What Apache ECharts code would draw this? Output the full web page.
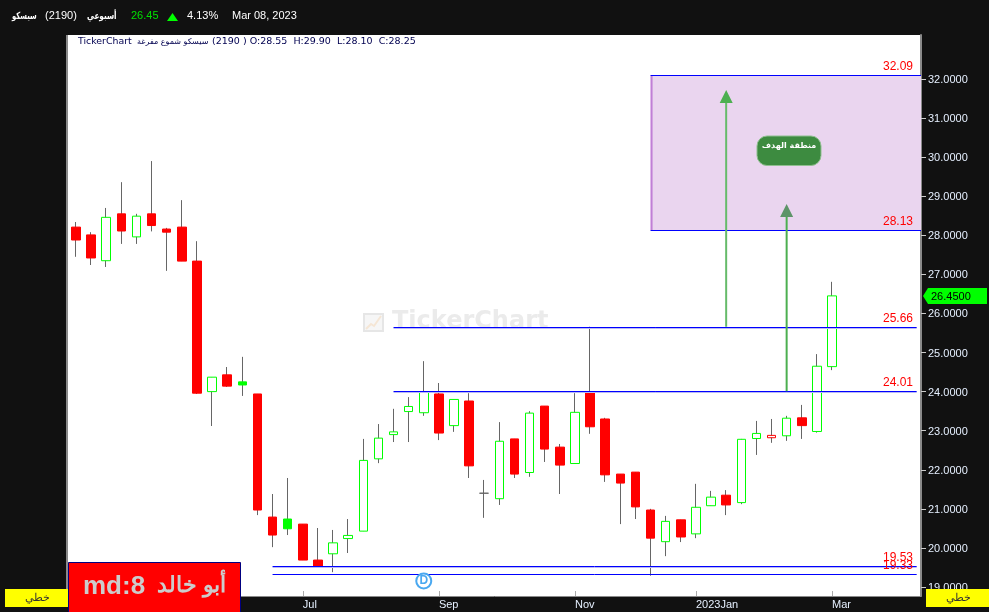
<!DOCTYPE html>
<html><head><meta charset="utf-8">
<style>html,body{margin:0;padding:0;background:#111;overflow:hidden}#c{width:989px;height:612px}</style>
<script src="https://cdn.jsdelivr.net/npm/echarts@6/dist/echarts.min.js"></script>
</head><body><div id="c"></div>
<script>
const opens  = [28.21,28.01,27.35,28.55,27.96,28.55,28.16,28.21,27.34,24.00,24.43,24.25,23.94,20.79,20.74,20.61,19.69,19.85,20.24,20.43,22.28,22.90,23.49,23.46,23.94,23.13,23.76,21.40,21.26,22.79,21.93,23.63,22.58,22.16,24.00,23.30,21.89,21.94,20.97,20.16,20.72,20.36,21.08,21.35,21.16,22.80,22.82,22.87,23.33,22.98,24.64];
const closes = [27.88,27.42,28.46,28.11,28.49,28.25,28.08,27.34,23.96,24.37,24.14,24.17,20.97,20.33,20.49,19.69,19.52,20.13,20.32,22.24,22.81,22.97,23.62,24.00,22.94,23.80,22.10,21.40,22.73,21.89,23.45,22.53,22.12,23.47,23.10,21.87,21.66,21.05,20.25,20.68,20.28,21.04,21.30,21.10,22.78,22.93,22.88,23.32,23.13,24.65,26.45];
const highs  = [28.34,28.08,28.70,29.36,28.55,29.90,28.19,28.90,27.85,24.37,24.63,24.89,23.94,21.38,21.79,20.61,20.51,20.46,20.74,22.79,23.17,23.56,23.86,24.78,24.22,23.80,23.96,21.74,23.22,22.79,23.50,23.63,22.66,23.96,25.66,23.33,21.89,21.94,21.00,20.82,20.72,21.64,21.46,21.48,22.79,23.25,23.30,23.38,23.66,24.96,26.81];
const lows   = [27.45,27.24,27.19,27.78,27.78,28.10,27.09,27.34,23.94,23.12,24.12,23.89,20.84,20.02,20.33,19.69,19.49,19.38,19.87,20.43,22.17,22.71,22.71,23.38,22.76,22.97,21.79,20.77,21.10,21.79,21.82,22.20,21.38,22.15,22.92,21.69,20.61,20.74,19.29,19.79,20.15,20.25,21.08,20.84,21.12,22.38,22.69,22.74,22.79,22.95,24.55];

const monthTicks  = [15,24,33,41,50];
const monthLabels = ['Jul','Sep','Nov','2023Jan','Mar'];
const priceTicks  = [19,20,21,22,23,24,25,26,27,28,29,30,31,32];

const levelValues = [32.09,28.13,25.66,24.01,19.53,19.33];
const levelStarts = [38,38,21,21,13,13];
const levelEnds   = [55.886,55.886,55.6,55.6,55.6,55.6];
const levelHalo   = [0,0,1,1,1,0];
const arrowX      = [43,47];
const arrowFrom   = [25.66,24.01];
const arrowTip    = [31.72,28.80];
const lastPrice   = 26.45;
const dividend    = [23,19.155];

const UP='#00ff00', DOWN='#ff0000', WICK='#666666', TXT='#e6f0ff';
const FONT='"Liberation Sans",Arial,sans-serif';
const xMin=-0.529, xMax=55.886;

const wickData = opens.map((o,i)=>[i,o,closes[i],lows[i],highs[i]]);
const bodyData = opens.map((o,i)=>{
  const c=closes[i], prev=i?closes[i-1]:o;
  const col = o===c ? WICK : (c>prev?UP:DOWN);
  const fill = c>=o ? '#ffffff' : col;
  return {value:[i,o,c,Math.min(o,c),Math.max(o,c)],
    itemStyle:{color:fill,color0:fill,borderColor:col,borderColor0:col,borderColorDoji:col,borderWidth:1}};
});
const levelData = levelValues.map((v,i)=>[levelStarts[i],levelEnds[i],v,levelHalo[i]]);
const arrowData = arrowX.map((x,i)=>[x,arrowFrom[i],arrowTip[i],i]);

const chart=echarts.init(document.getElementById('c'),null,{renderer:'canvas'});
chart.setOption({
  animation:false,
  backgroundColor:'#111111',
  grid:{left:68,top:35,width:853,height:561,show:true,backgroundColor:'#ffffff',borderWidth:0},
  xAxis:{type:'value',min:xMin,max:xMax,splitLine:{show:false},
    axisLine:{show:true,onZero:false,lineStyle:{color:'#8a8a8a',width:1}},
    axisTick:{show:true,inside:true,length:5,customValues:monthTicks,lineStyle:{color:'#aaaaaa'}},
    axisLabel:{customValues:monthTicks,align:'left',margin:3,color:TXT,fontFamily:FONT,fontSize:11,
      formatter:v=>monthLabels[monthTicks.indexOf(v)]||''}},
  yAxis:{type:'value',position:'right',min:18.77,max:33.126,splitLine:{show:false},
    axisLine:{show:true,onZero:false,lineStyle:{color:'#8a8a8a',width:2}},
    axisTick:{show:true,length:5,customValues:priceTicks,lineStyle:{color:'#cccccc'}},
    axisLabel:{customValues:priceTicks,margin:7,color:TXT,fontFamily:FONT,fontSize:11,
      formatter:v=>'{a|'+v.toFixed(4)+'}',
      rich:{a:{color:TXT,fontFamily:FONT,fontSize:11,padding:[2,0,0,0]}}}},
  series:[
    {type:'custom',name:'zone',z:1,data:[[38,xMax,32.09,28.13]],
     renderItem(p,api){
       const a=api.coord([api.value(0),api.value(2)]),b=api.coord([api.value(1),api.value(3)]);
       return {type:'group',children:[
         {type:'rect',shape:{x:a[0],y:a[1],width:b[0]-a[0],height:b[1]-a[1]},style:{fill:'#ead5ef'}},
         {type:'rect',shape:{x:a[0],y:a[1],width:2,height:b[1]-a[1]},style:{fill:'#c07fd6'}}
       ]};
     }},
    {type:'candlestick',name:'wicks',z:2,barWidth:1,data:wickData,
     itemStyle:{color:WICK,color0:WICK,borderColor:WICK,borderColor0:WICK,borderColorDoji:WICK,borderWidth:1}},
    {type:'candlestick',name:'bodies',z:3,barWidth:9,data:bodyData},
    {type:'custom',name:'levels',z:4,data:levelData,
     renderItem(p,api){
       const a=api.coord([api.value(0),api.value(2)]),b=api.coord([api.value(1),api.value(2)]);
       const y=Math.round(a[1]-0.02)+0.5;
       const kids=[
         {type:'line',shape:{x1:a[0],y1:y,x2:b[0],y2:y},style:{stroke:'#0000ff',lineWidth:1}},
         {type:'text',style:{x:Math.min(b[0],915)-2,y:y-3,text:api.value(2).toFixed(2),align:'right',verticalAlign:'bottom',
           fill:'#ff0000',font:'12px '+FONT}}
       ];
       if(api.value(3)) kids.unshift({type:'line',shape:{x1:a[0],y1:y+1,x2:b[0],y2:y+1},style:{stroke:'#b9b9f5',lineWidth:1}});
       return {type:'group',children:kids};
     }},
    {type:'custom',name:'arrows',z:5,data:arrowData,
     renderItem(p,api){
       const a=api.coord([api.value(0),api.value(1)]),t=api.coord([api.value(0),api.value(2)]);
       const i=api.value(3);
       return {type:'group',children:[
         {type:'line',shape:{x1:a[0],y1:a[1],x2:a[0],y2:t[1]+12},style:{stroke:i?'#4caf50':'#66bb6a',lineWidth:2}},
         {type:'polygon',shape:{points:[[a[0],t[1]],[a[0]+6.5,t[1]+13],[a[0]-6.5,t[1]+13]]},style:{fill:i?'#5d9468':'#4caf50'}}
       ]};
     }},
    {type:'custom',name:'last',z:6,data:[[lastPrice]],
     renderItem(p,api){
       const y=api.coord([0,api.value(0)])[1];
       return {type:'group',children:[
         {type:'polygon',shape:{points:[[923,y],[928,y-8],[987,y-8],[987,y+8],[928,y+8]]},style:{fill:'#00ff00'}},
         {type:'text',style:{x:931,y:y+1,text:api.value(0).toFixed(4),verticalAlign:'middle',fill:'#000',font:'11px '+FONT}}
       ]};
     }},
    {type:'scatter',name:'dividend',z:6,symbol:'circle',symbolSize:15,data:[dividend],
     itemStyle:{color:'#ffffff',borderColor:'#4aa8f0',borderWidth:2,opacity:1},
     label:{show:true,position:'inside',formatter:'D',color:'#4aa8f0',fontFamily:FONT,fontWeight:'bold',fontSize:12}}
  ],
  graphic:[
    {type:'rect',z:10,shape:{x:66,y:35,width:2,height:561},style:{fill:'#8a8a8a'}},
    {type:'rect',z:1,shape:{x:364,y:314,width:19,height:17},style:{fill:'#f6f6f6',stroke:'#e6e6e6',lineWidth:2}},
    {type:'polyline',z:1,shape:{points:[[366,329],[371,324],[374,326],[381,316]]},style:{stroke:'#f5e6d5',lineWidth:2,fill:'none'}},
    {type:'text',z:1,style:{x:392,y:322,text:'TickerChart',verticalAlign:'middle',fill:'#ebebeb',font:'bold 24px "DejaVu Sans"'}},

    {type:'text',z:10,x:12,y:16,scaleX:0.68,style:{x:0,y:0,text:'سيسكو',verticalAlign:'middle',fill:'#ffffff',font:'bold 10px "DejaVu Sans"'}},
    {type:'text',z:10,style:{x:45,y:16,text:'(2190)',verticalAlign:'middle',fill:'#ffffff',font:'11px '+FONT}},
    {type:'text',z:10,x:87,y:16,scaleX:0.73,style:{x:0,y:0,text:'أسبوعي',verticalAlign:'middle',fill:'#ffffff',font:'bold 10px "DejaVu Sans"'}},
    {type:'text',z:10,style:{x:131,y:16,text:'26.45',verticalAlign:'middle',fill:'#00e000',font:'11px '+FONT}},
    {type:'polygon',z:10,shape:{points:[[167,21],[178,21],[172.5,13]]},style:{fill:'#00ff00'}},
    {type:'text',z:10,style:{x:187,y:16,text:'4.13%',verticalAlign:'middle',fill:'#ffffff',font:'11px '+FONT}},
    {type:'text',z:10,style:{x:232,y:16,text:'Mar 08, 2023',verticalAlign:'middle',fill:'#ffffff',font:'11px '+FONT}},
    {type:'text',z:10,style:{x:78,y:42,text:'TickerChart',verticalAlign:'middle',fill:'#000050',font:'9.4px "DejaVu Sans"'}},
    {type:'text',z:10,style:{x:137,y:42,text:'سيسكو شموع مفرغة',verticalAlign:'middle',fill:'#000050',font:'8px "DejaVu Sans"'}},
    {type:'text',z:10,style:{x:212,y:42,text:'(2190 ) O:28.55  H:29.90  L:28.10  C:28.25',verticalAlign:'middle',fill:'#000050',font:'9.5px "DejaVu Sans"'}},

    {type:'rect',z:10,shape:{x:757,y:136,width:64,height:29.5,r:10},style:{fill:'#3d8b40',stroke:'#8fbf8f',lineWidth:1}},
    {type:'text',z:11,style:{x:789,y:146,text:'منطقة الهدف',align:'center',verticalAlign:'middle',fill:'#ffffff',font:'bold 8px "DejaVu Sans"'}},

    {type:'rect',z:12,shape:{x:5,y:589,width:63,height:18},style:{fill:'#ffff00'}},
    {type:'text',z:13,style:{x:37,y:598,text:'خطي',align:'center',verticalAlign:'middle',fill:'#333',font:'11px '+FONT}},
    {type:'rect',z:12,shape:{x:926,y:589,width:63,height:18},style:{fill:'#ffff00'}},
    {type:'text',z:13,style:{x:958,y:598,text:'خطي',align:'center',verticalAlign:'middle',fill:'#333',font:'11px '+FONT}},
    {type:'rect',z:12,shape:{x:68.5,y:562.5,width:172,height:50},style:{fill:'#ff0000',stroke:'#000080',lineWidth:1}},
    {type:'text',z:13,style:{x:83,y:587,text:'md:8',verticalAlign:'middle',fill:'#cccccc',font:'bold 26px '+FONT}},
    {type:'text',z:13,style:{x:157,y:586,text:'أبو خالد',verticalAlign:'middle',fill:'#cccccc',font:'bold 22px '+FONT}}
  ]
});
</script></body></html>
